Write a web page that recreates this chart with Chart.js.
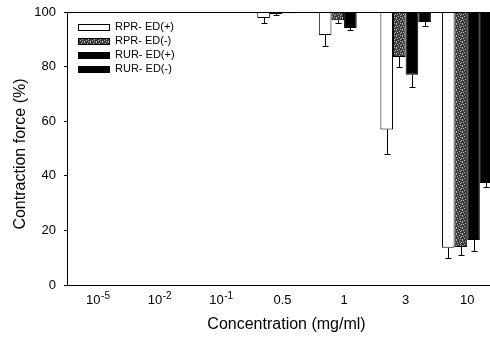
<!DOCTYPE html>
<html>
<head>
<meta charset="utf-8">
<script src="https://cdn.jsdelivr.net/npm/chart.js@4"></script>
<style>
html,body{margin:0;padding:0;overflow:hidden;background:#fff;width:490px;height:338px;}
#wrap{position:absolute;left:0;top:0;width:498px;height:338px;}
</style>
</head>
<body>
<div id="wrap"><canvas id="c" width="498" height="338"></canvas></div>
<script>
const categories = ['10^-5', '10^-2', '10^-1', '0.5', '1', '3', '10'];
const seriesNames = ['RPR- ED(+)', 'RPR- ED(-)', 'RUR- ED(+)', 'RUR- ED(-)'];
const rprPlus      = [100, 100, 100, 97.8, 91.6, 57, 13.6];
const rprPlusErr   = [0, 0, 0, 1.8, 4.1, 9, 3.7];
const rprMinus     = [100, 100, 100, 99.3, 97, 83.5, 13.9];
const rprMinusErr  = [0, 0, 0, 0.5, 1, 3.5, 2.9];
const rurPlus      = [100, 100, 100, 99.5, 94.1, 77, 16.5];
const rurPlusErr   = [0, 0, 0, 0, 0.7, 4.5, 4];
const rurMinus     = [100, 100, 100, 100, 100, 96.3, 37.4];
const rurMinusErr  = [0, 0, 0, 0, 0, 1.3, 1.5];
const yTicks = [0, 20, 40, 60, 80, 100];
const xTitle = 'Concentration (mg/ml)';
const yTitle = 'Contraction force (%)';

const FONT = '"Liberation Sans", Arial, sans-serif';

function makePattern() {
  const p = document.createElement('canvas');
  p.width = 6; p.height = 6;
  const g = p.getContext('2d');
  g.fillStyle = '#3a3a3a';
  g.fillRect(0, 0, 6, 6);
  g.fillStyle = '#b8b8b8';
  [[0,0],[3,1],[1,2],[5,2],[2,4],[4,3],[0,5],[4,5]].forEach(([x,y]) => g.fillRect(x, y, 1, 1));
  return g.createPattern(p, 'repeat');
}
const ctx = document.getElementById('c').getContext('2d');
const gray = makePattern();

const values = [rprPlus, rprMinus, rurPlus, rurMinus];
const errs = [rprPlusErr, rprMinusErr, rurPlusErr, rurMinusErr];
const fills = ['#ffffff', gray, '#000000', '#000000'];

const datasets = values.map((v, i) => ({
  label: seriesNames[i],
  data: v.map(x => [x, 100]),
  backgroundColor: fills[i],
  borderColor: '#000',
  borderWidth: 1,
  borderSkipped: false,
  categoryPercentage: 0.82,
  barPercentage: 1.0
}));

const errorBars = {
  id: 'errorBars',
  afterDatasetsDraw(chart) {
    const c = chart.ctx, ys = chart.scales.y;
    c.save();
    c.strokeStyle = '#000';
    c.lineWidth = 1;
    chart.data.datasets.forEach((ds, i) => {
      const meta = chart.getDatasetMeta(i);
      meta.data.forEach((el, j) => {
        const e = errs[i][j];
        if (!e) return;
        const v = values[i][j];
        const x = Math.round(el.x) + 0.5;
        const y1 = ys.getPixelForValue(v);
        const y2 = Math.round(ys.getPixelForValue(v - e)) + 0.5;
        c.beginPath();
        c.moveTo(x, y1); c.lineTo(x, y2);
        c.moveTo(x - 3, y2); c.lineTo(x + 3, y2);
        c.stroke();
      });
    });
    c.restore();
  }
};

const insideLegend = {
  id: 'insideLegend',
  afterDraw(chart) {
    const c = chart.ctx;
    c.save();
    const rows = [27, 41, 55, 69];
    c.font = '11px ' + FONT;
    c.textBaseline = 'middle';
    chart.data.datasets.forEach((ds, i) => {
      const y = rows[i];
      c.fillStyle = ds.backgroundColor;
      c.fillRect(78, y - 3, 32, 7);
      c.strokeStyle = '#000';
      c.lineWidth = 1;
      c.strokeRect(78.5, y - 2.5, 31, 6);
      c.fillStyle = '#000';
      c.fillText(ds.label, 115, y);
    });
    c.restore();
  }
};

const labelsAndTitles = {
  id: 'labelsAndTitles',
  afterDraw(chart) {
    const c = chart.ctx, xs = chart.scales.x, area = chart.chartArea;
    c.save();
    c.fillStyle = '#000';
    c.textBaseline = 'alphabetic';
    const baseY = area.bottom + 19;
    categories.forEach((lab, i) => {
      const cx = xs.getPixelForTick(i);
      const parts = lab.split('^');
      c.font = '13px ' + FONT;
      const w1 = c.measureText(parts[0]).width;
      let w2 = 0;
      if (parts[1]) { c.font = '10px ' + FONT; w2 = c.measureText(parts[1]).width; }
      const x0 = cx - (w1 + w2) / 2;
      c.font = '13px ' + FONT;
      c.textAlign = 'left';
      c.fillText(parts[0], x0, baseY);
      if (parts[1]) {
        c.font = '10px ' + FONT;
        c.fillText(parts[1], x0 + w1 + 0.5, baseY - 5);
      }
    });
    c.font = '16px ' + FONT;
    c.textAlign = 'center';
    c.textBaseline = 'middle';
    c.fillText(xTitle, (area.left + 490) / 2 + 8, 325);
    c.translate(21, 154);
    c.rotate(-Math.PI / 2);
    c.fillText(yTitle, 0, 0);
    c.restore();
  }
};

new Chart(ctx, {
  type: 'bar',
  data: { labels: categories, datasets },
  options: {
    responsive: false,
    animation: false,
    devicePixelRatio: 1,
    layout: { padding: { top: 12, right: 0, left: 0, bottom: 0 } },
    plugins: { legend: { display: false }, tooltip: { enabled: false } },
    scales: {
      x: {
        grid: { display: true, drawOnChartArea: false, drawTicks: false, color: 'rgba(0,0,0,0)' },
        border: { display: true, color: '#000', width: 1 },
        ticks: { display: false },
        afterFit(s) { s.height = 53; s.paddingLeft = 0; s.paddingRight = 0; }
      },
      y: {
        min: 0, max: 100,
        afterBuildTicks(s) { s.ticks = yTicks.map(v => ({ value: v })); },
        grid: { drawOnChartArea: true, drawTicks: true, tickLength: 3, tickColor: '#000',
                color: c => (c.tick && c.tick.value === 100) ? '#000' : 'rgba(0,0,0,0)', lineWidth: 1 },
        border: { display: true, color: '#000', width: 1 },
        ticks: { color: '#000', padding: 8, font: { family: FONT, size: 13 } },
        afterFit(s) { s.width = 67; s.paddingTop = 0; s.paddingBottom = 0; }
      }
    }
  },
  plugins: [errorBars, insideLegend, labelsAndTitles]
});
</script>
</body>
</html>
